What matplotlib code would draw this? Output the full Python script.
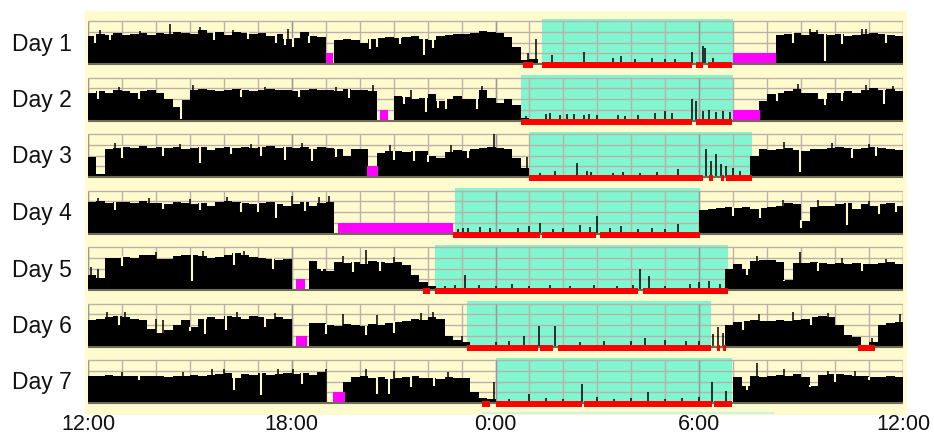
import numpy as np
import matplotlib
matplotlib.use("Agg")
import matplotlib.pyplot as plt
from matplotlib.patches import Rectangle

plt.rcParams['font.family'] = ['Liberation Sans', 'DejaVu Sans']

# ---------------- data (hours since 12:00 noon; activity in grid units 0..4) ----------------
DAY_LABELS = ["Day 1", "Day 2", "Day 3", "Day 4", "Day 5", "Day 6", "Day 7"]
TICK_HOURS = [0, 6, 12, 18, 24]
TICK_LABELS = ["12:00", "18:00", "0:00", "6:00", "12:00"]

# 15-minute activity levels (96 per day)
DAY1_ACT = [2.6,2.8,2.7,2.9, 2.7,2.8,2.9,2.7, 2.9,2.8,3.0,2.9, 2.8,3.2,2.9,3.0,
            2.7,3.0,2.9,2.8, 2.9,2.6,2.8,2.3, 2.4,3.0,2.6,2.5, 0,2.2,2.3,2.2,
            2.0,2.3,2.4,2.5, 2.4,2.5,2.6,2.3, 2.2,2.6,2.7,2.8, 2.8,2.9,3.1,3.0,
            2.9,2.5,1.6,0.4, 0.5,0,0,0, 0,0,0,0, 0,0,0,0,
            0,0,0,0, 0,0,0,0, 0,0,0,0, 0,0,0,0,
            0,2.7,2.8,2.9, 2.7,3.0,2.8,2.7, 2.8,2.6,2.7,2.8, 2.9,2.8,2.7,2.6]
DAY2_ACT = [2.6,2.7,2.6,2.8, 2.7,2.6,2.7,2.8, 2.6,2.0,1.3,1.9, 2.8,2.9,2.8,2.7,
            2.8,2.9,2.8,2.7, 2.8,2.9,2.8,2.8, 2.7,2.8,2.9,2.8, 2.8,2.7,2.9,2.8,
            2.8,2.7,0,0, 2.3,2.2,2.0,2.1, 2.5,1.8,2.0,2.3, 2.0,2.0,2.8,2.1,
            1.6,2.0,1.4,0.2, 0,0,0,0, 0,0,0,0, 0,0,0,0,
            0,0,0,0, 0,0,0,0, 0,0,0,0, 0,0,0,1.8,
            2.5,2.6,2.7,2.9, 2.6,2.6,2.0,2.6, 2.6,2.7,2.6,2.8, 3.0,2.8,2.9,2.7]
DAY3_ACT = [1.9,0.3,2.6,2.7, 2.8,2.7,2.9,2.7, 2.8,2.7,2.8,2.6, 2.7,2.8,2.5,2.7,
            2.8,2.7,2.8,2.7, 2.8,2.9,2.7,2.8, 2.7,2.8,2.6,2.8, 2.7,2.6,2.0,2.6,
            2.6,0,2.2,2.4, 2.4,2.3,2.4,2.4, 2.0,1.8,2.3,2.5, 2.4,2.6,2.7,2.8,
            2.7,2.6,1.8,0.8, 0,0,0,0, 0,0,0,0, 0,0,0,0,
            0,0,0,0, 0,0,0,0, 0,0,0,0, 0,0,2.0,2.6,
            2.5,2.6,2.7,2.5, 2.4,2.6,2.6,2.7, 2.8,2.7,2.6,2.7, 2.8,2.7,2.6,2.5]
DAY4_ACT = [2.9,3.0,2.8,2.9, 2.9,2.8,3.0,2.8, 2.8,2.7,2.9,2.8, 2.7,2.8,2.6,2.9,
            3.0,2.9,2.8,2.7, 2.8,2.9,2.7,2.6, 2.7,2.9,2.6,2.8, 2.9,0,0,0,
            0,0,0,0, 0,0,0,0, 0,0,0,0, 0,0,0,0,
            0,0,0,0, 0,0,0,0, 0,0,0,0, 0,0,0,0,
            0,0,0,0, 0,0,0,0, 2.2,2.3,2.4,2.5, 2.4,2.5,2.3,2.4,
            2.5,2.6,2.8,2.7, 1.2,2.5,2.6,2.6, 2.7,2.8,2.3,2.7, 2.6,2.7,2.8,2.6]
DAY5_ACT = [1.4,1.1,3.0,3.0, 3.1,3.0,3.3,3.3, 2.9,2.9,3.2,3.3, 3.3,3.2,3.0,3.1,
            3.3,3.4,3.3,3.1, 3.0,2.9,2.8,2.9, 0,0,2.7,2.0, 1.8,2.6,2.5,2.6,
            2.4,2.7,2.6,2.5, 2.6,2.3,1.4,0.7, 0.4,0,0,0, 0,0,0,0,
            0,0,0,0, 0,0,0,0, 0,0,0,0, 0,0,0,0,
            0,0,0,0, 0,0,0,0, 0,0,0,2.0, 2.4,2.0,2.7,2.8,
            2.8,2.6,0.9,2.5, 2.5,2.6,2.5,2.4, 2.5,2.4,2.5,2.4, 2.4,2.5,2.6,2.4]
DAY6_ACT = [2.5,2.6,2.7,2.8, 2.7,2.6,2.5,1.6, 1.3,1.5,2.0,2.5, 1.8,2.6,2.7,2.6,
            2.8,2.7,2.6,2.8, 2.7,2.6,2.7,2.6, 0,0,2.2,2.2, 2.0,1.9,2.1,2.0,
            1.9,2.1,2.0,2.2, 2.3,2.4,2.6,2.5, 2.7,2.6,1.0,0.6, 0.4,0,0,0,
            0,0,0,0, 0,0,0,0, 0,0,0,0, 0,0,0,0,
            0,0,0,0, 0,0,0,0, 0,0,0,2.0, 2.3,2.4,2.5,2.4,
            2.4,2.5,2.4,2.5, 2.6,2.7,2.8,2.7, 2.0,1.1,0.9,0, 0.4,2.0,2.2,2.3]
DAY7_ACT = [2.5,2.5,2.6,2.5, 2.5,2.5,2.5,2.5, 2.5,2.4,2.5,2.5, 2.6,2.5,2.6,2.7,
            2.8,2.3,2.7,2.6, 2.8,2.6,2.7,2.8, 2.7,2.8,2.6,2.9, 0,0,2.0,2.4,
            2.5,2.3,2.4,2.2, 2.3,2.4,2.5,2.3, 2.3,2.2,2.4,2.3, 2.3,1.0,0.5,0.4,
            0,0,0,0, 0,0,0,0, 0,0,0,0, 0,0,0,0,
            0,0,0,0, 0,0,0,0, 0,0,0,0, 2.4,1.6,2.5,2.4,
            2.5,2.6,2.5,2.7, 2.4,1.6,2.6,2.7, 2.7,2.6,2.5,2.5, 2.4,2.4,2.5,2.4]

# narrow activity spikes (time, height)
DAY1_SPIKES = [(0.35,3.2),(1.53,3.1),(2.4,3.7),(3.3,3.4),(4.28,3.2),(5.9,3.3),(12.95,1.0),
               (13.2,2.3),(13.66,0.8),(14.6,1.15),(15.46,0.6),(15.7,0.7),(16.1,0.5),(16.6,0.6),
               (17.0,0.5),(17.3,0.5),(17.8,1.1),(18.1,1.7),(18.17,1.5),(18.4,0.6),(21.25,3.3),
               (21.46,3.2),(22.8,3.3),(22.9,3.3)]
DAY2_SPIKES = [(0.9,3.1),(3.1,3.3),(5.2,3.1),(7.3,3.1),(8.4,3.3),(9.5,2.8),(11.6,3.2),
               (12.9,0.4),(13.5,0.6),(13.6,0.7),(13.9,0.5),(14.1,0.6),(14.3,0.6),(14.6,0.5),
               (14.75,0.6),(15.0,0.5),(15.6,0.5),(15.8,0.4),(16.2,0.5),(16.7,0.7),(17.0,0.9),
               (17.2,0.7),(17.8,2.0),(17.9,1.8),(18.1,0.9),(18.3,1.0),(18.5,0.8),(18.7,0.9),
               (18.9,0.8),(20.9,3.4),(22.9,3.3),(23.7,3.2)]
DAY3_SPIKES = [(0.8,3.2),(2.7,3.1),(4.8,3.1),(6.3,3.2),(8.9,3.0),(10.7,3.0),(11.97,4.0),
               (12.93,1.9),(13.32,0.4),(13.75,0.6),(14.4,1.3),(14.7,0.6),(14.8,0.5),
               (15.46,0.4),(15.75,0.5),(16.25,0.4),(16.75,0.5),(17.37,0.7),(18.2,2.6),
               (18.35,1.5),(18.5,2.1),(18.65,1.2),(18.8,1.0),(19.0,0.8),(19.2,0.6),
               (20.5,3.3),(21.9,3.2),(23.0,3.1)]
DAY4_SPIKES = [(0.3,3.3),(1.8,3.3),(3.0,3.2),(4.1,3.4),(6.0,3.5),(6.8,3.4),(7.1,3.5),
               (10.9,0.4),(11.05,0.5),(11.2,0.5),(11.54,0.6),(11.84,0.5),(12.13,0.4),
               (12.67,0.5),(13.0,0.7),(13.31,1.0),(13.7,0.4),(14.0,0.5),(14.49,0.8),
               (14.78,0.6),(15.0,1.6),(15.37,0.5),(15.7,0.7),(16.2,0.4),(16.6,0.5),(17.0,0.4),
               (17.37,0.9),(18.1,1.5),(20.46,3.1),(21.5,3.1),(23.0,3.0)]
DAY5_SPIKES = [(0.1,2.1),(0.3,2.0),(2.0,3.5),(3.4,3.6),(4.6,3.6),(7.5,3.2),(8.2,3.7),(9.0,3.1),
               (10.5,0.4),(10.8,0.5),(11.1,1.4),(11.5,0.5),(12.0,0.4),(12.5,0.6),(13.0,0.4),
               (13.6,0.5),(14.2,0.4),(14.9,0.5),(15.57,0.4),(16.05,0.5),(16.25,2.0),
               (16.52,1.3),(17.0,0.4),(17.73,0.6),(18.0,0.7),(18.3,0.8),(18.6,0.6),
               (19.7,3.2),(20.97,3.5),(22.2,3.0),(23.5,2.9)]
DAY6_SPIKES = [(0.55,3.2),(1.1,3.2),(2.0,2.6),(2.2,2.5),(4.4,3.2),(5.5,3.1),(7.5,3.0),(8.5,2.9),
               (9.8,3.1),(10.15,3.2),(11.0,1.0),(12.0,0.4),(12.4,0.5),(12.85,1.0),(13.28,1.9),
               (13.75,1.9),(14.5,0.4),(15.2,0.5),(16.0,0.5),(16.4,0.8),(17.0,0.6),(17.6,0.5),
               (18.0,0.5),(18.4,1.2),(18.55,1.8),(18.7,1.3),(19.75,3.0),(20.75,3.2),
               (21.8,3.1),(23.1,0.8),(23.9,3.0)]
DAY7_SPIKES = [(1.0,2.9),(2.8,2.9),(3.65,3.2),(4.0,3.2),(5.6,3.2),(6.05,3.2),(7.0,3.2),(8.2,3.2),
               (9.0,3.0),(10.6,2.9),(11.95,2.0),(12.4,0.4),(13.0,0.8),(13.5,0.5),(14.0,0.4),
               (14.55,1.8),(15.0,0.6),(15.5,0.4),(16.0,0.5),(16.5,1.0),(17.0,0.4),(17.5,0.5),
               (18.0,0.6),(18.37,2.0),(18.8,1.1),(19.7,3.7),(20.5,3.2),(21.8,3.0),(22.6,3.0)]

# narrow dips in the activity (time, level reached)
DAY1_DIPS = [(0.2,2.0),(0.65,2.2),(3.7,2.2),(4.7,2.3),(5.55,2.0),(5.8,1.8),(6.04,1.6),(6.5,2.0),
             (8.3,1.4),(8.5,1.6),(9.2,1.9),(9.9,0.8),(10.17,1.5),(20.77,2.0),(21.7,0.3),
             (22.2,1.9),(23.5,2.0)]
DAY2_DIPS = [(0.3,2.0),(1.5,2.0),(2.75,0.15),(4.5,2.2),(6.2,2.2),(7.7,2.1),(9.3,1.5),(9.95,0.8),
             (10.3,1.2),(10.55,1.1),(11.45,1.1),(20.3,1.8),(21.7,1.4),(22.2,1.8),(23.45,1.5)]
DAY3_DIPS = [(0.4,0.3),(1.0,1.8),(2.2,2.0),(3.3,1.3),(4.2,2.1),(5.1,2.0),(5.8,1.6),(6.6,1.5),
             (7.3,1.9),(9.0,1.6),(9.6,1.5),(10.0,1.4),(11.2,1.8),(20.97,0.5),(22.5,1.8),
             (23.2,2.0)]
DAY4_DIPS = [(0.8,2.2),(2.2,2.3),(3.3,2.2),(4.5,2.0),(5.0,2.0),(5.55,1.4),(6.4,2.1),(19.0,1.6),
             (19.8,1.4),(21.0,0.5),(22.35,0.8),(23.3,1.8),(23.8,2.0)]
DAY5_DIPS = [(1.0,2.2),(3.05,0.85),(4.3,2.3),(5.45,2.0),(6.9,1.8),(7.8,1.7),(8.6,1.8),
             (19.4,1.4),(20.5,0.8),(21.5,1.8),(22.8,1.8)]
DAY6_DIPS = [(0.9,2.0),(3.0,1.4),(3.45,1.2),(4.05,1.5),(5.2,1.8),(7.0,1.2),(8.2,1.1),(9.0,1.3),
             (19.3,1.5),(21.3,2.0)]
DAY7_DIPS = [(1.5,2.1),(4.3,1.2),(5.1,0.7),(6.3,1.8),(8.5,0.85),(8.85,0.8),(9.5,1.5),
             (10.2,1.6),(19.4,1.2),(21.25,1.5),(22.0,2.0),(23.0,2.1)]

# red bars (sleep scored), magenta boxes (off-wrist), green bands (rest interval)
DAY1_RED = [(12.8,13.1),(13.37,17.8),(17.9,18.1),(18.25,18.96)]
DAY2_RED = [(12.75,17.8),(17.9,18.96)]
DAY3_RED = [(12.99,18.1),(18.3,18.4),(18.64,18.73),(18.8,19.55)]
DAY4_RED = [(10.75,13.3),(13.37,14.97),(15.07,18.02)]
DAY5_RED = [(9.87,10.07),(10.22,16.2),(16.35,18.85)]
DAY6_RED = [(11.15,13.25),(13.3,13.7),(13.85,18.35),(18.52,18.6),(18.7,18.8),(22.67,23.17)]
DAY7_RED = [(11.6,11.85),(12.0,14.55),(14.62,18.37),(18.42,18.96)]

DAY1_MAG = [(7.0,7.2),(19.0,20.26)]
DAY2_MAG = [(8.6,8.83),(19.0,19.8)]
DAY3_MAG = [(8.22,8.55)]
DAY4_MAG = [(7.36,10.75)]
DAY5_MAG = [(6.12,6.4)]
DAY6_MAG = [(6.12,6.45)]
DAY7_MAG = [(7.22,7.57)]

DAY1_GREEN = (13.37, 19.0)
DAY2_GREEN = (12.75, 19.0)
DAY3_GREEN = (12.99, 19.55)
DAY4_GREEN = (10.8, 18.02)
DAY5_GREEN = (10.22, 18.85)
DAY6_GREEN = (11.15, 18.35)
DAY7_GREEN = (12.0, 18.96)

ACTS = [DAY1_ACT, DAY2_ACT, DAY3_ACT, DAY4_ACT, DAY5_ACT, DAY6_ACT, DAY7_ACT]
SPIKES = [DAY1_SPIKES, DAY2_SPIKES, DAY3_SPIKES, DAY4_SPIKES, DAY5_SPIKES, DAY6_SPIKES, DAY7_SPIKES]
DIPS = [DAY1_DIPS, DAY2_DIPS, DAY3_DIPS, DAY4_DIPS, DAY5_DIPS, DAY6_DIPS, DAY7_DIPS]
REDS = [DAY1_RED, DAY2_RED, DAY3_RED, DAY4_RED, DAY5_RED, DAY6_RED, DAY7_RED]
MAGS = [DAY1_MAG, DAY2_MAG, DAY3_MAG, DAY4_MAG, DAY5_MAG, DAY6_MAG, DAY7_MAG]
GREENS = [DAY1_GREEN, DAY2_GREEN, DAY3_GREEN, DAY4_GREEN, DAY5_GREEN, DAY6_GREEN, DAY7_GREEN]

# ---------------- style ----------------
YELLOW = '#FFFBCF'
GREEN = '#80F7D0'
GRID = '#BDB0AA'
GRID_DARK = '#999999'
BASE = '#6E6E55'
RED = '#FF0000'
MAG = '#FF00FF'

W, H = 934, 435
fig = plt.figure(figsize=(W / 100, H / 100), dpi=100)
fig.patches.append(Rectangle((85 / W, 1 - 416 / H), (907 - 85) / W, (416 - 12) / H,
                             transform=fig.transFigure, facecolor=YELLOW,
                             edgecolor='none', zorder=-10))

X0, X1 = 88, 903
PX_UNIT = 43 / 4.0
PITCH = 56.5
edges = np.arange(97) / 4.0

for k in range(7):
    base = 65 + PITCH * k
    top_px = base - 43 - 3
    bot_px = base + 6
    ax = fig.add_axes([X0 / W, 1 - bot_px / H, (X1 - X0) / W, (bot_px - top_px) / H])
    ax.set_zorder(1)
    ax.set_xlim(0, 24)
    ax.set_ylim(-6 / PX_UNIT, 4 + 3 / PX_UNIT)
    ax.patch.set_alpha(0)
    for s in ax.spines.values():
        s.set_visible(False)
    ax.set_yticks([])
    ax.set_xticks([])

    g0, g1 = GREENS[k]
    ax.add_patch(Rectangle((g0, 0), g1 - g0, 4.2, facecolor=GREEN, edgecolor='none', zorder=1))

    ax.hlines([1, 2, 3, 4], 0, 24, color=GRID, lw=1.0, zorder=2)
    ax.vlines(np.arange(25), 0, 4, color=GRID, lw=1.0, zorder=2)
    ax.vlines([0, 6, 12, 18, 24], 0, 4, color=GRID_DARK, lw=1.0, zorder=2.1)

    act = np.array(ACTS[k], dtype=float)
    ax.stairs(act, edges, fill=True, color='black', lw=0, zorder=3)
    st = [s[0] for s in SPIKES[k]]
    sh = [s[1] for s in SPIKES[k]]
    ax.vlines(st, 0, sh, color='black', lw=1.1, zorder=3)
    for t, h in DIPS[k]:
        top = act[min(int(t * 4), 95)]
        if top > h:
            ax.vlines(t, h, top + 0.05, color=YELLOW, lw=1.5, zorder=3.5)

    for m0, m1 in MAGS[k]:
        ax.add_patch(Rectangle((m0, 0), m1 - m0, 1.0, facecolor=MAG, edgecolor='none', zorder=4))

    ax.hlines(0, 0, 24, color=BASE, lw=1.5, zorder=5)

    for r0, r1 in REDS[k]:
        ax.add_patch(Rectangle((r0, -0.4), r1 - r0, 0.55, facecolor=RED, edgecolor='none', zorder=6))

    fig.text(72 / W, 1 - (base - 21) / H, DAY_LABELS[k], ha='right', va='center',
             fontsize=16.5, color='#111111')

    if k == 6:
        ax.hlines(-10 / PX_UNIT, 11.6, 20.2, color='#CFF3DC', lw=1.5, clip_on=False, zorder=1)

# time-of-day labels under the last row
for hr, lab in zip(TICK_HOURS, TICK_LABELS):
    xpx = X0 + (X1 - X0) * hr / 24.0
    fig.text(xpx / W, 1 - 430 / H, lab, ha='center', va='baseline',
             fontsize=15.5, color='#111111')

fig.savefig('out.png', dpi=100, facecolor='white')
